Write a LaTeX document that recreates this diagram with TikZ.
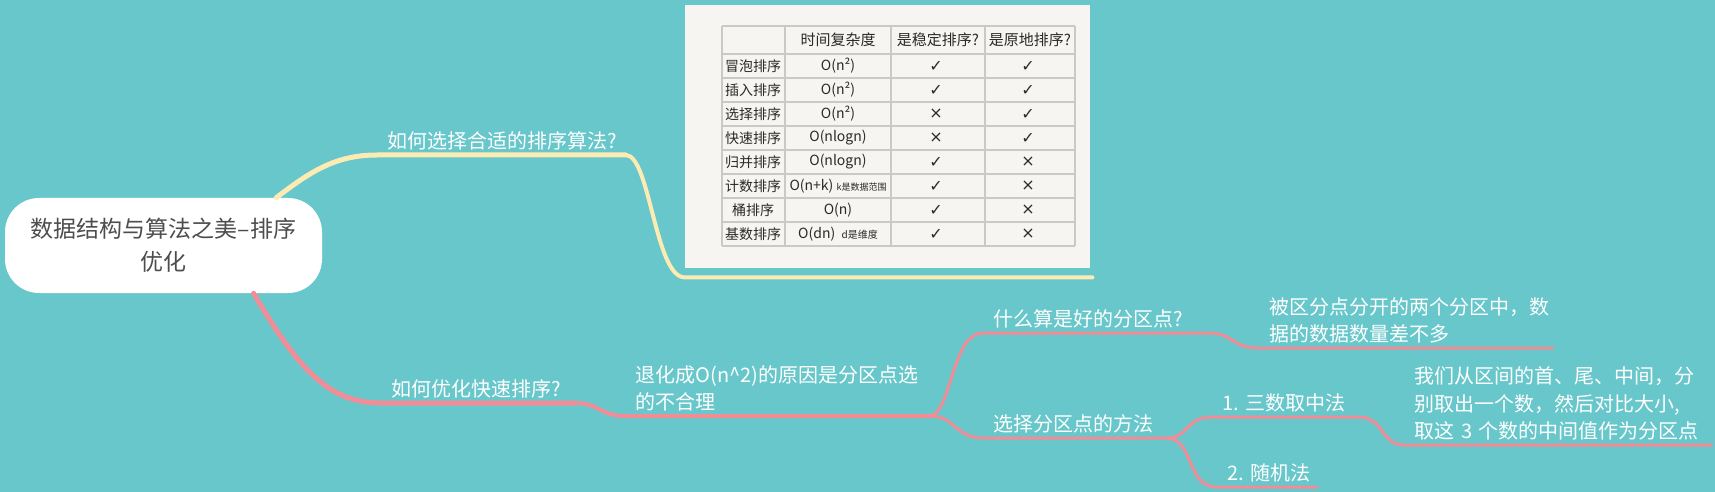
\documentclass[tikz,border=0pt]{standalone}
\usepackage{fontspec}
\setmainfont{Noto Sans CJK SC}
\newfontfamily\symfont{DejaVu Sans}
\usepackage{tikz}
\usetikzlibrary{positioning, calc}
\definecolor{mapbg}{HTML}{67C7CB}
\definecolor{branchyellow}{HTML}{FDEBB4}
\definecolor{branchpink}{HTML}{F28C96}
\definecolor{panelbg}{HTML}{F6F5F1}
\definecolor{rulegray}{HTML}{C9C9C6}
\definecolor{inkgray}{HTML}{2A2A2A}
\definecolor{rootgray}{HTML}{4D4D4D}
\newcommand{\tickmark}{{\symfont\fontsize{8}{8}\selectfont ✓}}
\newcommand{\crossmark}{{\symfont\fontsize{8}{8}\selectfont ×}}

\begin{document}
\begin{tikzpicture}[
      x=0.5pt, y=-0.5pt,
      rootbox/.style={fill=white, rounded corners=17pt, inner sep=0pt,
                      minimum width=158.5pt, minimum height=47.5pt,
                      align=center, text=rootgray,
                      font=\fontsize{11.5}{16.5}\selectfont},
      lbl/.style={anchor=south west, text=white, align=left,
                  inner xsep=5pt, inner ysep=3pt, text depth=0pt,
                  font=\fontsize{10}{13.75}\selectfont},
      lbltwo/.style={lbl, text depth=13.75pt},
      lblthree/.style={lbl, text depth=27.5pt},
      panel/.style={fill=panelbg, inner sep=0pt,
                    minimum width=202.5pt, minimum height=131.5pt},
      tblrule/.style={draw=rulegray, line width=0.7pt},
      tblhead/.style={text=inkgray, inner sep=0pt, font=\fontsize{7.5}{8}\selectfont},
      tblcell/.style={text=inkgray, inner sep=0pt, font=\fontsize{7}{7.5}\selectfont},
      ylw1/.style={draw=branchyellow, line width=2.5pt, line cap=round},
      ylw2/.style={ylw1, line width=2pt},
      pk1/.style={draw=branchpink, line width=2.5pt, line cap=round},
      pk2/.style={pk1, line width=2pt},
      pk3/.style={pk1, line width=1.5pt}
    ]
    \fill[mapbg] (0,0) rectangle (1715,492);
    \useasboundingbox (0,0) rectangle (1715,492);

    \node[rootbox] (root) at (163.5,245.5) {数据结构与算法之美–排序\\优化};

    % table picture
    \node[panel] (tbl) at (887.5,136.5) {};
    \coordinate (tblL) at ([yshift=-4.5pt]tbl.south west);
    \coordinate (tblR) at ([yshift=-4.5pt,xshift=1pt]tbl.south east);
    \foreach \y in {26,54,78,102,126,150,174,198,222,246}
      \draw[tblrule] (722,\y) -- (1075,\y);
    \foreach \x in {722,785,891,985,1075}
      \draw[tblrule] (\x,26) -- (\x,246);
    \node[tblhead] (hdtime) at (838,40) {时间复杂度};
    \node[tblhead] (hdstable) at (938,40) {是稳定排序?};
    \node[tblhead] (hdinplace) at (1030,40) {是原地排序?};
    \foreach \nm/\tc/\st/\ip [count=\i] in {
        冒泡排序/O(n²)/\tickmark/\tickmark,
        插入排序/O(n²)/\tickmark/\tickmark,
        选择排序/O(n²)/\crossmark/\tickmark,
        快速排序/O(nlogn)/\crossmark/\tickmark,
        归并排序/O(nlogn)/\tickmark/\crossmark,
        计数排序/{O(n+k) {\fontsize{4.5}{5}\selectfont k是数据范围}}/\tickmark/\crossmark,
        桶排序/O(n)/\tickmark/\crossmark,
        基数排序/{O(dn)\ \ {\fontsize{5}{5}\selectfont d是维度}}/\tickmark/\crossmark} {
      \node[tblcell] (nm\i) at (753,42+24*\i) {\nm};
      \node[tblcell] (tc\i) at (838,42+24*\i) {\tc};
      \node[tblcell] (st\i) at (936,42+24*\i) {\st};
      \node[tblcell] (ip\i) at (1028,42+24*\i) {\ip};
    }

    \node[lbl, text width=114pt] (sel) at (377,155) {如何选择合适的排序算法?};

    \node[lbl, text width=86.5pt] (opt) at (381,403) {如何优化快速排序?};
    \node[lbltwo, text width=142.5pt] (cause) at (625,416)
      {退化成O(n\textasciicircum2)的原因是分区点选\\的不合理};
    \node[lbl, text width=102pt] (good) at (983,333) {什么算是好的分区点?};
    \node[lbltwo, text width=136.5pt] (goodans) at (1259,348)
      {被区分点分开的两个分区中，数\\据的数据数量差不多};
    \node[lbl, text width=81pt] (how) at (983,438) {选择分区点的方法};
    \node[lbl, text width=62.5pt] (m1) at (1212,417) {1.~三数取中法};
    \node[lblthree, text width=143.5pt] (m1ans) at (1404,445)
      {我们从区间的首、尾、中间，分\\别取出一个数，然后对比大小,\\取这~3~个数的中间值作为分区点};
    \node[lbl, text width=39.5pt] (m2) at (1217,487) {2.~随机法};

    \draw[ylw1] (root.23.5) .. controls (310,172) and (335,155) .. (sel.south west)
      -- (sel.south east);
    \draw[ylw2] (sel.south east) .. controls (650,155) and (655,277) .. (tblL) -- (tblR);

    \draw[pk1] (root.-28) .. controls (300,372) and (330,403) .. (opt.south west)
      -- (opt.south east);
    \draw[pk2] (opt.south east) .. controls (600,403) and (600,416) .. (cause.south west)
      -- (cause.south east);
    \draw[pk3] (cause.south east) .. controls (952,410) and (952,333) .. (good.south west)
      -- (good.south east) .. controls (1235,333) and (1230,348) .. (goodans.south west)
      -- (goodans.south east);
    \draw[pk3] (cause.south east) .. controls (955,416) and (955,438) .. (how.south west)
      -- (how.south east);
    \draw[pk3] (how.south east) .. controls (1190,438) and (1185,417) .. (m1.south west)
      -- (m1.south east) .. controls (1385,417) and (1380,445) .. (m1ans.south west)
      -- (m1ans.south east);
    \draw[pk3] (how.south east) .. controls (1195,438) and (1185,487) .. (m2.south west)
      -- (m2.south east);
  \end{tikzpicture}
\end{document}
